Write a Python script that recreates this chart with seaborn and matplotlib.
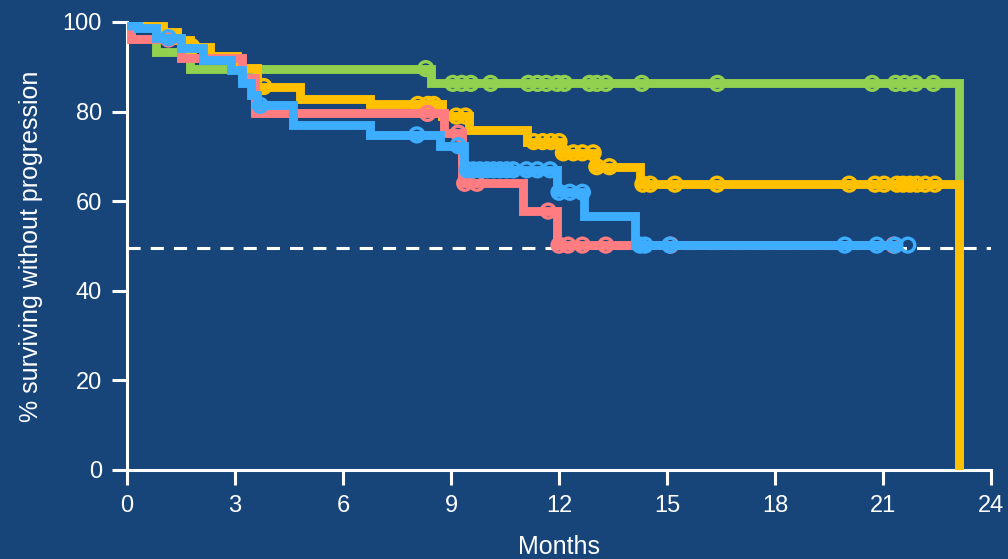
import numpy as np
import pandas as pd
import matplotlib
matplotlib.use("Agg")
import matplotlib.pyplot as plt
import seaborn as sns

# Kaplan-Meier estimates per arm: event times (months), survival (%) after each step,
# censoring times, and last follow-up time.
green_times = [0.3, 0.8, 1.75, 8.45, 23.1]
green_surv = [98.8, 93.4, 89.6, 86.3, 0.0]
green_censor = [8.3, 9.05, 9.3, 9.55, 10.1, 11.15, 11.4, 11.65, 11.95, 12.15,
                12.85, 13.05, 13.3, 14.3, 16.4, 20.7, 21.35, 21.6, 21.9, 22.4]
green_end = 23.1

yellow_times = [0.5, 1.0, 1.4, 1.75, 2.3, 3.05, 3.6, 4.8, 6.75, 8.75, 9.5,
                11.1, 12.05, 13.0, 14.25, 23.1]
yellow_surv = [99.2, 97.8, 96.0, 94.5, 92.3, 89.8, 85.6, 82.8, 81.6, 79.0, 76.0,
               73.3, 70.8, 67.7, 63.8, 0.0]
yellow_censor = [1.8, 3.8, 8.08, 8.36, 8.52, 9.15, 9.4, 11.3, 11.55, 11.78, 12.0,
                 12.12, 12.4, 12.65, 12.95, 13.05, 13.4, 14.33, 14.53, 15.22, 16.39,
                 20.06, 20.78, 21.03, 21.39, 21.56, 21.75, 21.94, 22.17, 22.44]
yellow_end = 23.1

pink_times = [0.1, 1.5, 3.2, 3.55, 8.8, 9.3, 11.0, 11.95]
pink_surv = [96.2, 92.0, 87.5, 79.6, 75.2, 64.0, 57.8, 50.2]
pink_censor = [1.15, 8.35, 9.2, 9.38, 9.72, 11.7, 12.0, 12.25, 12.65, 13.3, 15.1, 21.3]
pink_end = 21.4

blue_times = [0.3, 0.8, 1.5, 2.1, 2.9, 3.2, 3.45, 3.6, 4.6, 6.75, 8.7, 9.35,
              11.95, 12.7, 14.1]
blue_surv = [98.6, 96.5, 94.2, 91.6, 89.2, 86.3, 83.7, 81.4, 77.1, 74.8, 72.4, 67.0,
             62.0, 56.6, 50.2]
blue_censor = [0.1, 1.15, 3.7, 8.05, 9.2, 9.45, 9.62, 9.8, 10.0, 10.18, 10.36, 10.55,
               10.73, 11.1, 11.4, 11.75, 12.0, 12.3, 12.65, 14.25, 14.39, 15.08,
               19.94, 20.83, 21.33, 21.69]
blue_end = 21.5

median_line = 49.5
x_ticks = [0, 3, 6, 9, 12, 15, 18, 21, 24]
y_ticks = [0, 20, 40, 60, 80, 100]

BG = "#17457A"
arms = [
    ("green", green_times, green_surv, green_censor, green_end, "#92D050"),
    ("yellow", yellow_times, yellow_surv, yellow_censor, yellow_end, "#FFC000"),
    ("pink", pink_times, pink_surv, pink_censor, pink_end, "#FF7C80"),
    ("blue", blue_times, blue_surv, blue_censor, blue_end, "#3DAEFF"),
]

sns.set_style("ticks")
plt.rcParams["font.family"] = ["Liberation Sans", "DejaVu Sans"]

fig = plt.figure(figsize=(10.08, 5.59), dpi=100, facecolor=BG)
ax = fig.add_axes([127 / 1008, 1 - 470 / 559, (991 - 127) / 1008, (470 - 22) / 559])
ax.set_facecolor(BG)

ax.axhline(median_line, color="white", lw=2.2, dashes=(4.3, 3.3), zorder=1.5)


def step_frame(times, surv, end):
    t = [0.0] + list(times)
    s = [100.0] + list(surv)
    if end > t[-1]:
        t.append(end)
        s.append(s[-1])
    return pd.DataFrame({"month": t, "surv": s})


def censor_frame(times, surv, censor):
    t = np.array([0.0] + list(times))
    s = np.array([100.0] + list(surv))
    idx = np.searchsorted(t, np.array(censor), side="right") - 1
    return pd.DataFrame({"month": censor, "surv": s[idx]})


for z, (name, times, surv, censor, end, color) in enumerate(arms):
    steps = step_frame(times, surv, end)
    sns.lineplot(data=steps, x="month", y="surv", ax=ax, color=color, lw=6.4,
                 drawstyle="steps-post", sort=False, estimator=None,
                 solid_capstyle="butt", solid_joinstyle="miter", zorder=2 + z * 2)
    marks = censor_frame(times, surv, censor)
    sns.scatterplot(data=marks, x="month", y="surv", ax=ax, marker="o", s=100,
                    linewidth=2.4, zorder=3 + z * 2)
    pts = ax.collections[-1]
    pts.set_facecolor("none")
    pts.set_edgecolor(color)

ax.set_xlim(0, 24)
ax.set_ylim(0, 100)
ax.set_xticks(x_ticks)
ax.set_yticks(y_ticks)
ax.set_xlabel("Months", color="white", fontsize=18, labelpad=13)
ax.set_ylabel("% surviving without progression", color="white", fontsize=18, labelpad=14)

for side in ["top", "right"]:
    ax.spines[side].set_visible(False)
for side in ["left", "bottom"]:
    ax.spines[side].set_color("white")
    ax.spines[side].set_linewidth(2.2)
ax.tick_params(axis="both", colors="white", labelcolor="white", labelsize=17,
               length=11, width=2.2, pad=7, direction="out")

fig.savefig("out.png", dpi=100, facecolor=BG)
